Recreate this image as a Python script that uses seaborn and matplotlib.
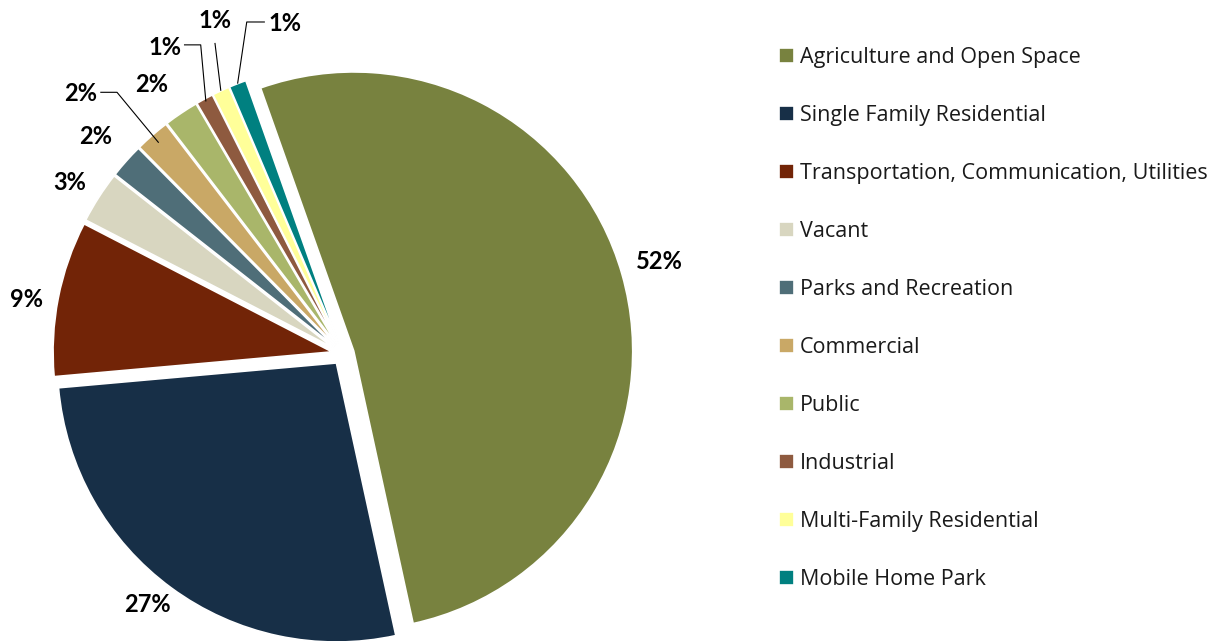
import numpy as np
import matplotlib
matplotlib.use("Agg")
import matplotlib.pyplot as plt
import seaborn as sns

# ---- data ----
categories = ["Agriculture and Open Space", "Single Family Residential",
              "Transportation, Communication, Utilities", "Vacant",
              "Parks and Recreation", "Commercial", "Public", "Industrial",
              "Multi-Family Residential", "Mobile Home Park"]
shares = [52, 27, 9, 3, 2, 2, 2, 1, 1, 1]
pct_labels = ["52%", "27%", "9%", "3%", "2%", "2%", "2%", "1%", "1%", "1%"]
colors = ["#78823F", "#172F47", "#722407", "#D8D6C0", "#4F6E78",
          "#C9A866", "#A9B66A", "#8E5A3F", "#FFFF99", "#008080"]

sns.set_theme(style="white")
plt.rcParams["font.family"] = ["Lato", "DejaVu Sans"]

W, H, DPI = 1224, 641, 100
fig = plt.figure(figsize=(W / DPI, H / DPI), dpi=DPI)

# axes covering left part; 1 data unit = R px
R = 279.0
cx, cy = 343.0, 354.0
ax_w = 700
ax = fig.add_axes([0, 0, ax_w / W, 1])
palette = sns.color_palette(colors)

expl = 0.04
wedges, _ = ax.pie(shares, colors=palette, startangle=109.5, counterclock=False,
                   explode=[expl] * len(shares), radius=1.0,
                   wedgeprops=dict(edgecolor="white", linewidth=1.2))
ax.set_aspect("auto")
ax.set_xlim(-cx / R, (ax_w - cx) / R)
ax.set_ylim((cy - H) / R, cy / R)
ax.axis("off")

# label layout: (radius from pie centre, angle offset deg) or explicit leader specs
label_font = dict(fontsize=17, fontweight="bold", color="black", ha="center", va="center")
plain_pos = {0: (1.18, 0.4), 1: (1.14, -1.6), 2: (1.15, 1.4), 3: (1.155, 0.6),
             4: (1.18, 0.4), 6: (1.183, 1.5)}
# leader labels: label centre in data units, elbow points, endpoint radius
leader = {
    5: dict(text=(-0.939, 0.935), path=[(-0.87, 0.938), (-0.81, 0.938)], r_end=0.965),
    7: dict(text=(-0.638, 1.100), path=[(-0.57, 1.108), (-0.51, 1.108)], r_end=0.99),
    8: dict(text=(-0.459, 1.197), path=[(-0.459, 1.115)], r_end=1.0),
    9: dict(text=(-0.208, 1.186), path=[(-0.28, 1.19), (-0.345, 1.19)], r_end=1.0),
}

for i, w in enumerate(wedges):
    mid = np.deg2rad((w.theta1 + w.theta2) / 2)
    ox, oy = w.center
    if i in plain_pos:
        r, dang = plain_pos[i]
        a = mid + np.deg2rad(dang)
        ax.text(r * np.cos(a), r * np.sin(a), pct_labels[i], **label_font)
    else:
        spec = leader[i]
        tx, ty = spec["text"]
        ax.text(tx, ty, pct_labels[i], **label_font)
        ex = ox + spec["r_end"] * np.cos(mid)
        ey = oy + spec["r_end"] * np.sin(mid)
        pts = spec["path"] + [(ex, ey)]
        xs = [p[0] for p in pts]
        ys = [p[1] for p in pts]
        ax.plot(xs, ys, color="black", lw=0.8, solid_capstyle="butt")

leg = fig.legend(wedges, categories, loc="upper left",
                 bbox_to_anchor=(779 / W, 1 - 47 / H), frameon=False,
                 prop={"family": ["Open Sans", "DejaVu Sans"], "size": 15.5},
                 handlelength=0.7, handleheight=0.7,
                 handletextpad=0.28, labelspacing=1.72, borderpad=0,
                 borderaxespad=0)
for t in leg.get_texts():
    t.set_color("#1a1a1a")

fig.savefig("out.png", dpi=DPI)
